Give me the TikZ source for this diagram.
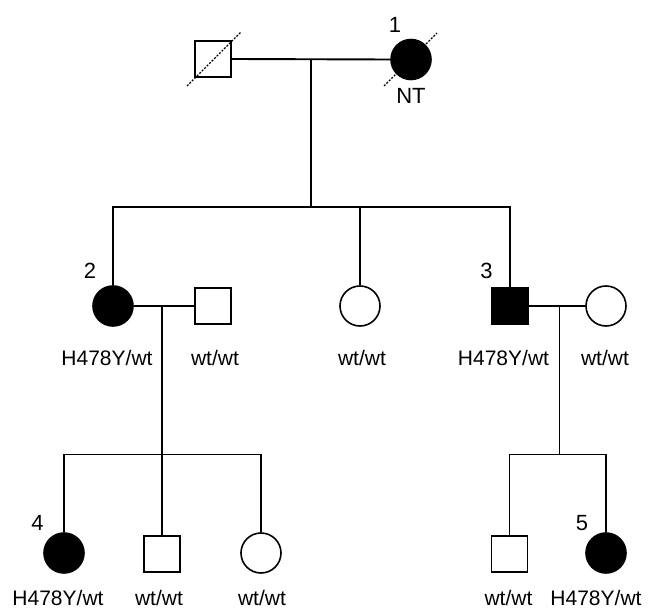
\documentclass[tikz,border=0pt]{standalone}
\usepackage{fontspec}
\setmainfont{Liberation Sans}
\begin{document}
\begin{tikzpicture}[x=1pt,y=-1pt,
  lw/.style={line width=1.9pt},
  male/.style={draw,rectangle,minimum size=36pt,inner sep=0pt,line width=1.6pt},
  female/.style={draw,circle,minimum size=40pt,inner sep=0pt,line width=1.6pt},
  aff/.style={fill=black},
  geno/.style={anchor=base,inner sep=0pt,font=\fontsize{21}{21}\selectfont},
  num/.style={anchor=base,inner sep=0pt,font=\fontsize{22}{22}\selectfont},
  dec/.style={line width=1.1pt,dash pattern=on 2pt off 1.5pt}]
\useasboundingbox (0,0) rectangle (649,610);
% Generation I
\node[male] (gIm) at (213,59) {};
\node[female,aff] (gIf) at (411,59.5) {};
\draw[dec] (187,86) -- (241,32);
\draw[dec] (384,86) -- (437,33);
\node[num] (n1) at (395,33) {1};
\node[num] (nt) at (411,103) {NT};
\draw[lw] (gIm.east) -- (gIf.west);
\coordinate (m1) at (311,59.5);
\coordinate (j1) at (311,207);
\draw[lw] (m1) -- (j1);
% Generation II
\node[female,aff] (p2) at (113,306) {};
\node[male] (s2) at (213,306) {};
\node[female] (pm) at (360,306) {};
\node[male,aff] (p3) at (510,306) {};
\node[female] (s3) at (606,306) {};
\draw[lw] (p2.north) |- (j1) -| (p3.north);
\draw[lw] (pm.north) -- (pm.north |- j1);
\node[num] (n2) at (90,278) {2};
\node[num] (n3) at (486.5,278) {3};
\node[geno] (g2) at (107,365) {H478Y/wt};
\node[geno] (gs2) at (215,365) {wt/wt};
\node[geno] (gm) at (362,365) {wt/wt};
\node[geno] (g3) at (503.5,365) {H478Y/wt};
\node[geno] (gs3) at (605,365) {wt/wt};
\draw[lw] (p2.east) -- (s2.west);
\draw[lw] (p3.east) -- (s3.west);
\coordinate (m2) at (162,306);
\coordinate (j2) at (162,454.5);
\coordinate (m3) at (559.5,306);
\coordinate (j3) at (559.5,454.5);
\draw[lw] (m2) -- (j2);
\draw[lw] (m3) -- (j3);
% Generation III
\node[female,aff] (c4) at (64,553) {};
\node[male] (c5) at (162,554) {};
\node[female] (c6) at (261,553) {};
\node[male] (c7) at (509.5,554) {};
\node[female,aff] (c8) at (606,553) {};
\draw[lw] (c4.north) |- (j2) -| (c6.north);
\draw[lw] (c5.north) -- (j2);
\draw[lw] (c7.north) |- (j3) -| (c8.north);
\node[num] (n4) at (37.5,530) {4};
\node[num] (n5) at (582,530) {5};
\node[geno] (g4) at (58,605) {H478Y/wt};
\node[geno] (g5) at (159,605) {wt/wt};
\node[geno] (g6) at (262,605) {wt/wt};
\node[geno] (g7) at (508.5,605) {wt/wt};
\node[geno] (g8) at (596,605) {H478Y/wt};
\end{tikzpicture}
\end{document}
